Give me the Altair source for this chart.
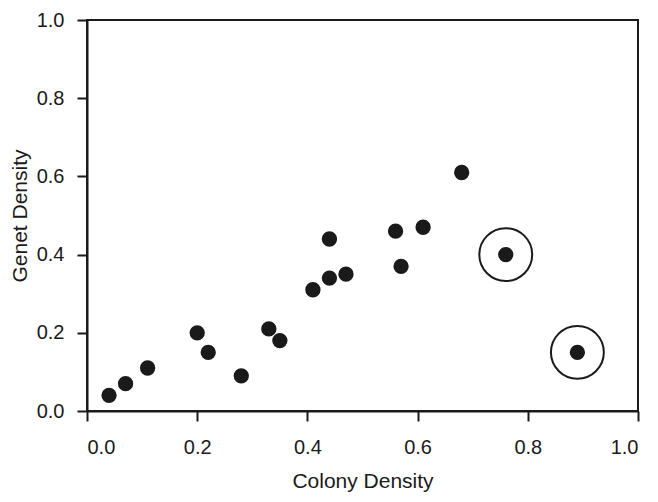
import altair as alt
import pandas as pd

colony = [0.04, 0.07, 0.11, 0.20, 0.22, 0.28, 0.33, 0.35, 0.41, 0.44, 0.44, 0.47, 0.56, 0.57, 0.61, 0.68, 0.76, 0.89]
genet = [0.04, 0.07, 0.11, 0.20, 0.15, 0.09, 0.21, 0.18, 0.31, 0.34, 0.44, 0.35, 0.46, 0.37, 0.47, 0.61, 0.40, 0.15]
circled = [False] * 16 + [True, True]

df = pd.DataFrame({"colony": colony, "genet": genet, "circled": circled})

FONT = "Liberation Sans"
INK = "#1a1a1a"

x = alt.X("colony:Q", title="Colony Density",
          scale=alt.Scale(domain=[0, 1], nice=False, zero=False),
          axis=alt.Axis(values=[0, 0.2, 0.4, 0.6, 0.8, 1.0], format=".1f", grid=False,
                        tickSize=10, tickWidth=2, tickColor=INK, domainColor=INK, domainWidth=2,
                        labelFont=FONT, labelFontSize=20, labelColor=INK, labelPadding=16,
                        titleFont=FONT, titleFontSize=21, titleFontWeight="normal", titleColor=INK,
                        titlePadding=13))
y = alt.Y("genet:Q", title="Genet Density",
          scale=alt.Scale(domain=[0, 1], nice=False, zero=False),
          axis=alt.Axis(values=[0, 0.2, 0.4, 0.6, 0.8, 1.0], format=".1f", grid=False,
                        tickSize=10, tickWidth=2, tickColor=INK, domainColor=INK, domainWidth=2,
                        labelFont=FONT, labelFontSize=20, labelColor=INK, labelPadding=13,
                        titleFont=FONT, titleFontSize=21, titleFontWeight="normal", titleColor=INK,
                        titlePadding=6))

dots = alt.Chart(df).mark_circle(size=235, color=INK, opacity=1).encode(x=x, y=y)
rings = alt.Chart(df).transform_filter(alt.datum.circled).mark_point(
    shape="circle", size=2800, filled=False, stroke=INK, strokeWidth=2, opacity=1
).encode(x=x, y=y)

chart = (dots + rings).properties(
    width=551, height=391,
    background="white",
    autosize=alt.AutoSizeParams(type="none"),
    padding={"left": 79, "top": 12, "right": 12, "bottom": 83},
).configure_view(stroke=INK, strokeWidth=2)

chart.save("out.html", embed_options={"renderer": "svg", "actions": False})
